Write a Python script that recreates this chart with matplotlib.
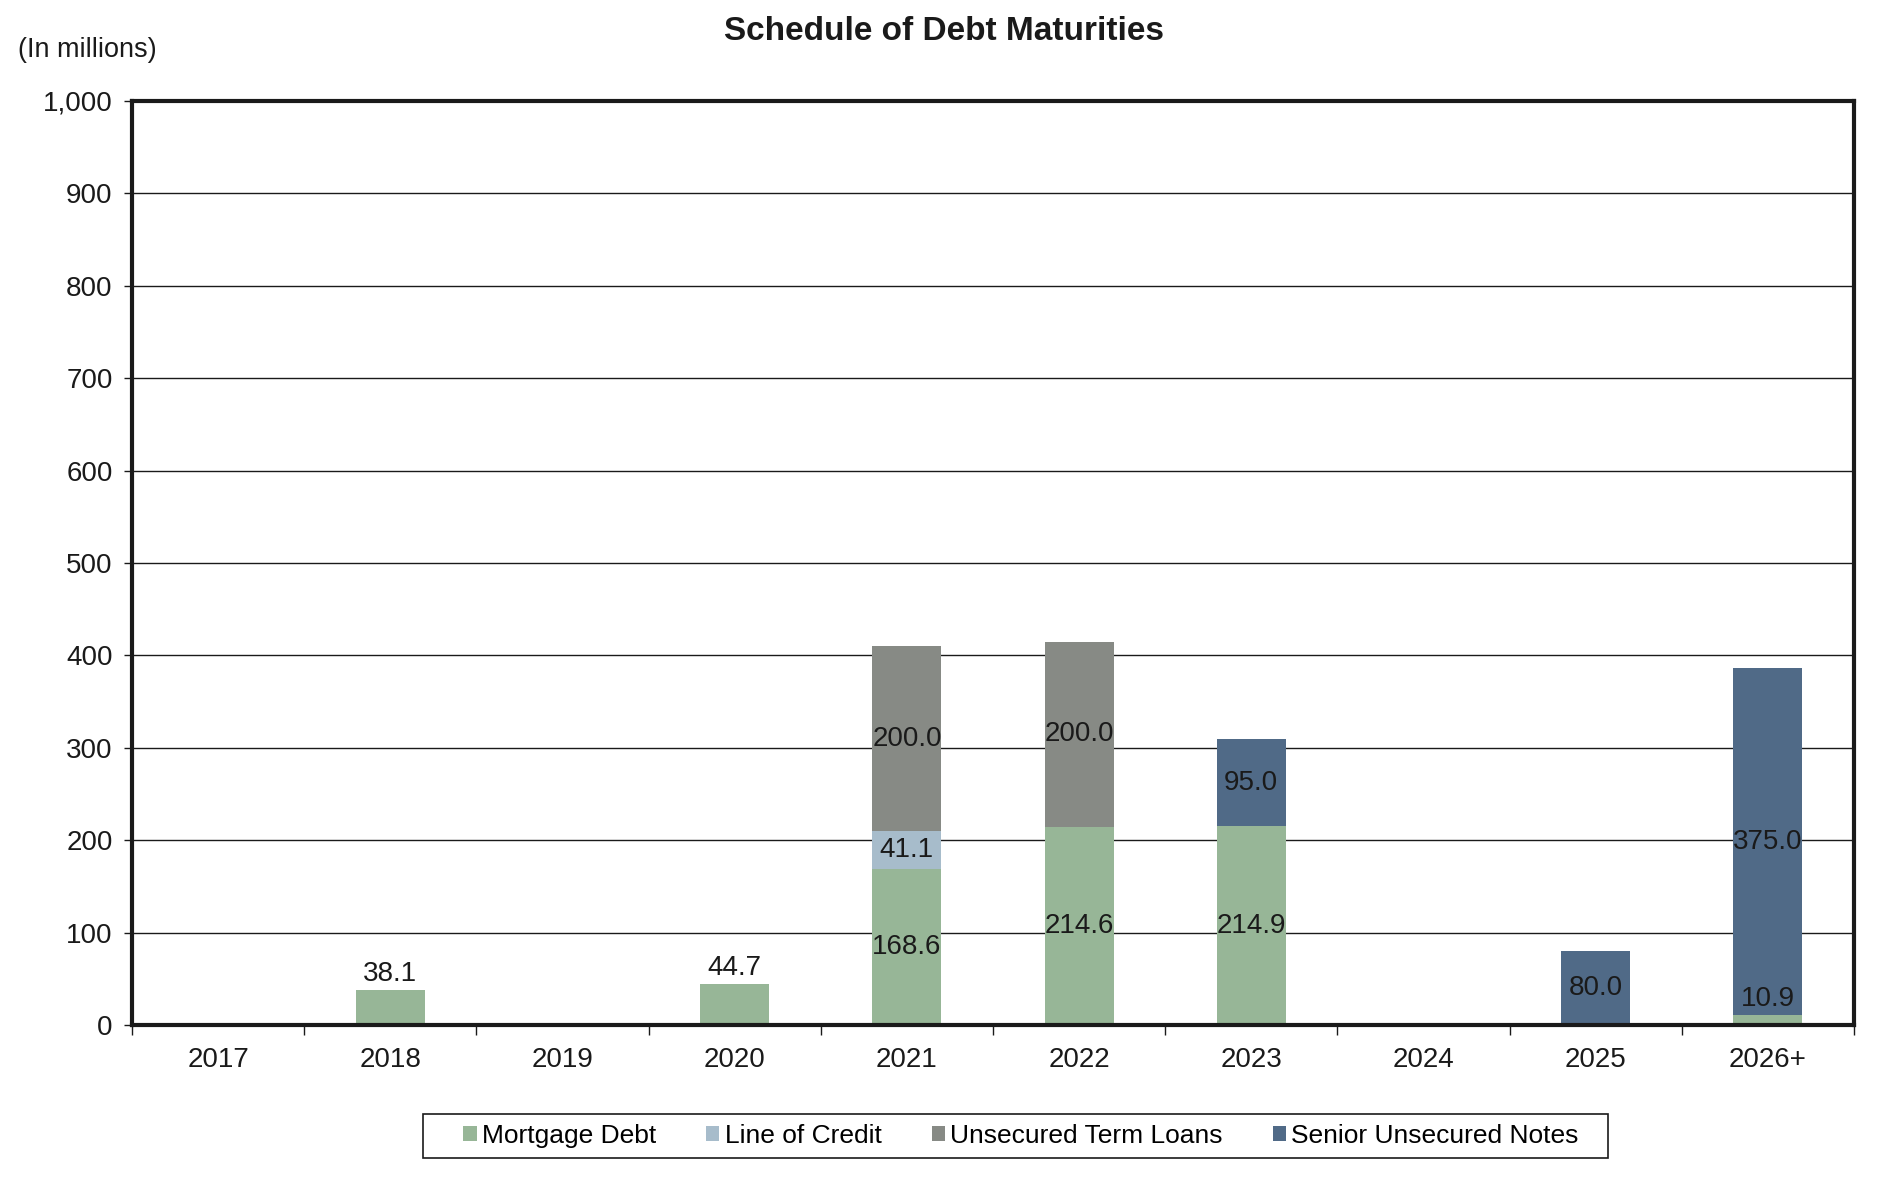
import matplotlib
matplotlib.use("Agg")
import matplotlib.pyplot as plt
import numpy as np
from matplotlib.ticker import FuncFormatter, FixedLocator
from matplotlib.patches import Rectangle

plt.rcParams['font.family'] = ['Liberation Sans', 'DejaVu Sans']

years = ["2017", "2018", "2019", "2020", "2021", "2022", "2023", "2024", "2025", "2026+"]
mortgage = [0, 38.1, 0, 44.7, 168.6, 214.6, 214.9, 0, 0, 10.9]
line_credit = [0, 0, 0, 0, 41.1, 0, 0, 0, 0, 0]
term_loans = [0, 0, 0, 0, 200.0, 200.0, 0, 0, 0, 0]
senior_notes = [0, 0, 0, 0, 0, 0, 95.0, 0, 80.0, 375.0]

series_names = ["Mortgage Debt", "Line of Credit", "Unsecured Term Loans", "Senior Unsecured Notes"]
colors = ["#97B697", "#A7BCCB", "#878A85", "#506A87"]

fig = plt.figure(figsize=(18.8, 11.78), dpi=100)
ax = fig.add_axes([132/1880, 1 - 1025/1178, (1854-132)/1880, (1025-101)/1178])

x = np.arange(len(years))
w = 0.40
bottom = np.zeros(len(years))
all_series = [mortgage, line_credit, term_loans, senior_notes]
for vals, name, c in zip(all_series, series_names, colors):
    vals = np.array(vals, dtype=float)
    ax.bar(x, vals, w, bottom=bottom, color=c, label=name, zorder=3)
    for i, v in enumerate(vals):
        if v <= 0:
            continue
        total = sum(s[i] for s in all_series)
        if v < 60 and (total == v or v < 20):
            ax.annotate(f"{v:.1f}", (x[i], bottom[i] + v), xytext=(0, 2), textcoords="offset points",
                        ha="center", va="bottom", fontsize=20, color="#1a1a1a", zorder=5)
        else:
            ax.text(x[i], bottom[i] + v / 2, f"{v:.1f}", ha="center", va="center",
                    fontsize=20, color="#1a1a1a", zorder=5)
    bottom += vals

ax.set_xlim(-0.5, len(years) - 0.5)
ax.set_ylim(0, 1000)
ax.set_yticks(np.arange(0, 1001, 100))
ax.yaxis.set_major_formatter(FuncFormatter(lambda v, p: f"{int(v):,}"))
ax.grid(axis="y", color="#1a1a1a", linewidth=1.0, zorder=1)
ax.set_xticks(x)
ax.set_xticklabels(years)
ax.xaxis.set_minor_locator(FixedLocator(np.arange(-0.5, len(years), 1.0)))
ax.tick_params(axis="x", which="major", length=0, labelsize=20, pad=16, colors="#1a1a1a")
ax.tick_params(axis="x", which="minor", length=7, width=1, direction="out", color="#1a1a1a")
ax.tick_params(axis="y", length=6, width=1, direction="out", labelsize=20, pad=8, colors="#1a1a1a")
for sp in ax.spines.values():
    sp.set_linewidth(3)
    sp.set_color("#1a1a1a")
    sp.set_zorder(6)

fig.text(0.5 + 4/1880, 1 - 31/1178, "Schedule of Debt Maturities", ha="center", va="center",
         fontsize=24, fontweight="bold", color="#1a1a1a")
fig.text(18/1880, 1 - 50/1178, "(In millions)", ha="left", va="center", fontsize=19.5, color="#1a1a1a")

leg = fig.legend(loc="center", bbox_to_anchor=(1021/1880, 1 - 1136/1178), ncol=4, fontsize=19,
                 frameon=False, handlelength=0.5, handleheight=0.5,
                 handletextpad=0.2, columnspacing=1.9, borderpad=0.3, borderaxespad=0)
fig.add_artist(Rectangle((423/1880, 1 - 1158/1178), (1608-423)/1880, 44/1178,
                         transform=fig.transFigure, fill=False, edgecolor="#1a1a1a", linewidth=1.2))

fig.savefig("out.png", dpi=100)
